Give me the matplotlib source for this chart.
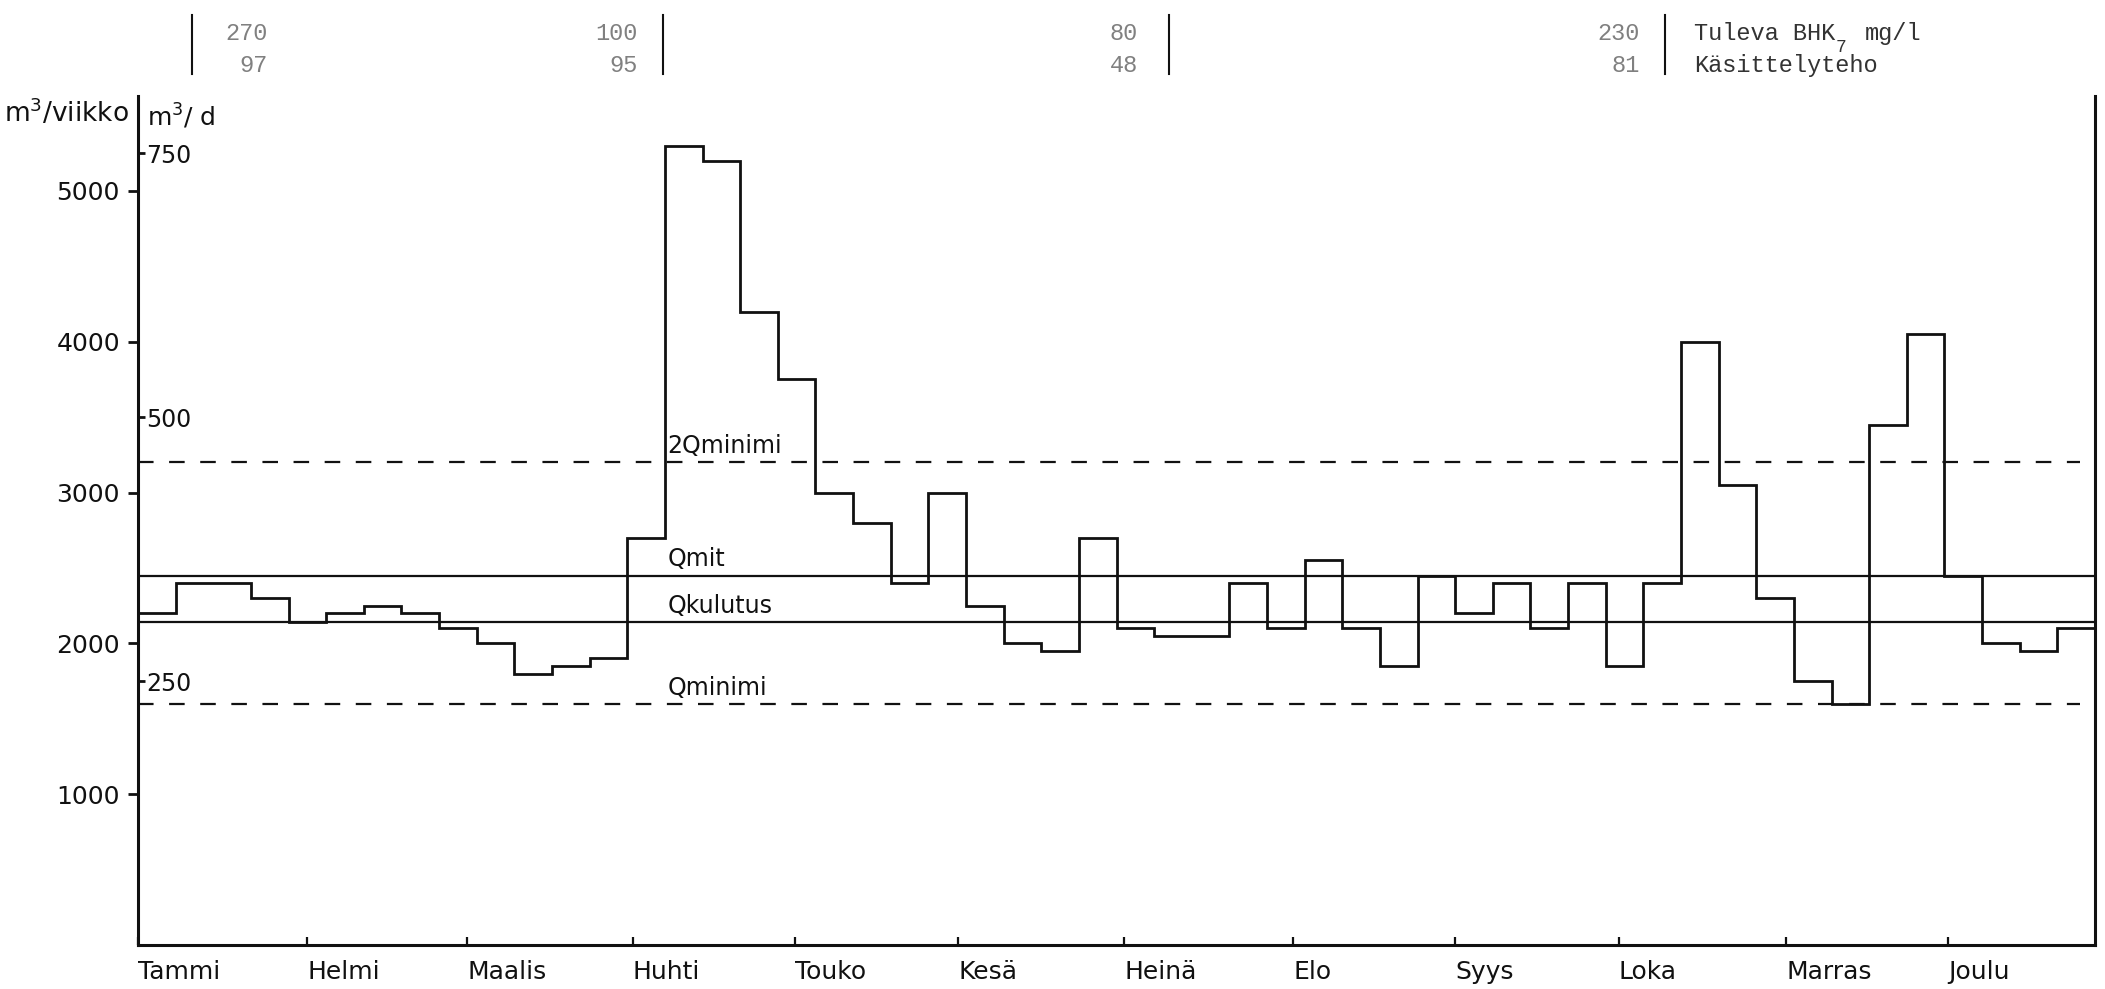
import numpy as np
import matplotlib
matplotlib.use("Agg")
import matplotlib.pyplot as plt

# Weekly inflow, m3/week (52 weeks)
weekly_flow = [2200, 2400, 2400, 2300, 2140, 2200, 2250, 2200, 2100, 2000,
               1800, 1850, 1900, 2700, 5300, 5200, 4200, 3750, 3000, 2800,
               2400, 3000, 2250, 2000, 1950, 2700, 2100, 2050, 2050, 2400,
               2100, 2550, 2100, 1850, 2450, 2200, 2400, 2100, 2400, 1850,
               2400, 4000, 3050, 2300, 1750, 1600, 3450, 4050, 2450, 2000,
               1950, 2100]

# Reference flows, m3/week
q_mit = 2450
q_kulutus = 2140
q_minimi = 1600
q_2minimi = 3200

months = ["Tammi", "Helmi", "Maalis", "Huhti", "Touko", "Kesä",
          "Heinä", "Elo", "Syys", "Loka", "Marras", "Joulu"]
month_starts = [0, 4.5, 8.75, 13.15, 17.45, 21.8, 26.2, 30.7, 35.0,
                39.35, 43.8, 48.1]

week_ticks = [1000, 2000, 3000, 4000, 5000]
day_ticks = [250, 500, 750]

# Incoming BOD7 (mg/l) and treatment efficiency (%) per period
bod_in = ["270", "100", "80", "230"]
efficiency = ["97", "95", "48", "81"]

W, H = 2105, 989
fig = plt.figure(figsize=(W / 100, H / 100), dpi=100)
fig.patch.set_facecolor("white")

ax_left, ax_right, ax_bottom, ax_top = 138, 2095, 945, 96
ax = fig.add_axes([ax_left / W, 1 - ax_bottom / H,
                   (ax_right - ax_left) / W, (ax_bottom - ax_top) / H])

ink = "#111111"
sans = "DejaVu Sans"
fs = 17

n = len(weekly_flow)
edges = np.arange(n + 1)
ax.stairs(weekly_flow, edges, baseline=None, color=ink, lw=2.0, zorder=3)

ax.axhline(q_mit, color=ink, lw=1.6, zorder=2)
ax.axhline(q_kulutus, color=ink, lw=1.6, zorder=2)
for q in (q_minimi, q_2minimi):
    ax.plot([0, n - 0.4], [q, q], color=ink, lw=1.6, dashes=(7, 7), zorder=2)

label_x = 14.07
for txt, q in (("2Qminimi", q_2minimi), ("Qmit", q_mit),
               ("Qkulutus", q_kulutus), ("Qminimi", q_minimi)):
    ax.annotate(txt, xy=(label_x, q), xytext=(0, 3), textcoords="offset points",
                ha="left", va="bottom", fontsize=fs, family=sans, color=ink)

ax.set_xlim(0, n)
ax.set_ylim(0, (ax_bottom - ax_top) / 0.1508)

for side in ("left", "right", "bottom"):
    ax.spines[side].set_linewidth(2.2)
    ax.spines[side].set_color(ink)
ax.spines["top"].set_visible(False)

ax.set_yticks(week_ticks)
ax.set_yticklabels([str(v) for v in week_ticks], fontsize=fs + 1, family=sans)
ax.tick_params(axis="y", direction="out", length=7, width=2, pad=6, colors=ink)

ax.set_xticks(month_starts)
ax.set_xticklabels(months, fontsize=fs + 1, family=sans, ha="left")
ax.tick_params(axis="x", direction="in", length=6, width=1.6, pad=11, colors=ink)

# m3/d scale on the inner side of the left spine
ax2 = ax.twinx()
ax2.set_ylim(0, ax.get_ylim()[1] / 7)
ax2.spines["right"].set_position(("axes", 0))
for side in ax2.spines:
    ax2.spines[side].set_visible(False)
ax2.set_yticks(day_ticks)
ax2.set_yticklabels([str(v) for v in day_ticks], fontsize=fs, family=sans)
ax2.tick_params(axis="y", direction="out", length=5, width=2, pad=1, colors=ink)

def ftext(x, y, s, **kw):
    return fig.text(x / W, 1 - y / H, s, **kw)

ftext(4, 113, "m$^3$/viikko", fontsize=fs + 2, family=sans, ha="left",
      va="center", color=ink)
ftext(147, 116, "m$^3$/ d", fontsize=fs + 1, family=sans, ha="left",
      va="center", color=ink)

# Header: BOD7 and treatment efficiency per period
mono = "Liberation Mono"
grey = "#808080"
num_right = [268, 638, 1138, 1640]
bar_x = [192, 663, 1169, 1665]
for xr, b, e in zip(num_right, bod_in, efficiency):
    ftext(xr, 40, b, fontsize=17, family=mono, ha="right", va="baseline",
          color=grey)
    ftext(xr, 72, e, fontsize=17, family=mono, ha="right", va="baseline",
          color=grey)
for xb in bar_x:
    fig.add_artist(plt.Line2D([xb / W, xb / W], [1 - 15 / H, 1 - 74 / H],
                              color=ink, lw=1.5))
char_w = 14.2
head_x = 1694
ftext(head_x, 40, "Tuleva BHK", fontsize=17, family=mono, ha="left",
      va="baseline", color="#333333")
ftext(head_x + 10 * char_w, 52, "7", fontsize=13, family=mono, ha="left",
      va="baseline", color="#333333")
ftext(head_x + 12 * char_w, 40, "mg/l", fontsize=17, family=mono, ha="left",
      va="baseline", color="#333333")
ftext(head_x, 72, "Käsittelyteho", fontsize=17, family=mono, ha="left",
      va="baseline", color="#333333")

fig.savefig("out.png", dpi=100, facecolor="white")
